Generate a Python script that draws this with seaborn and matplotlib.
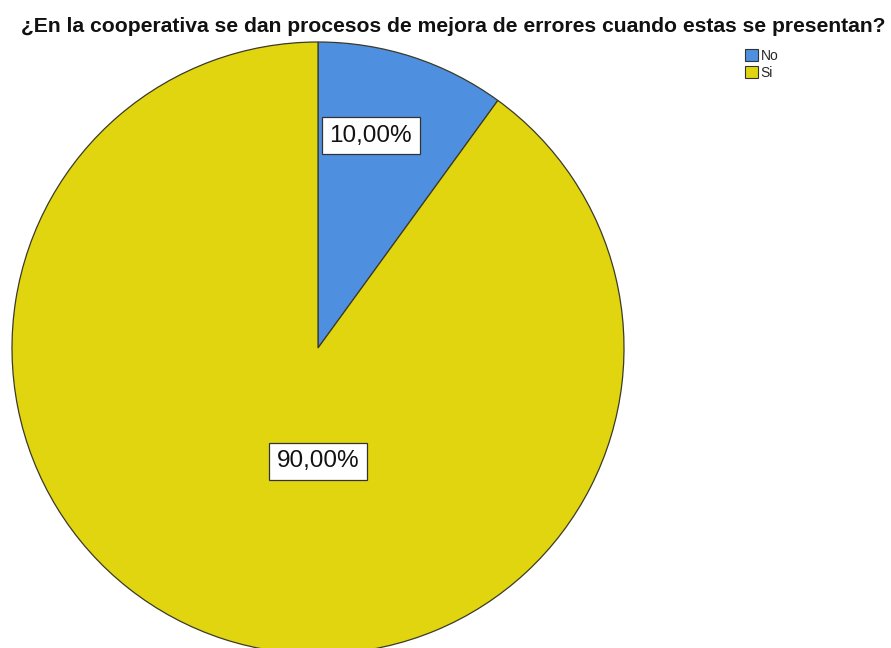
import numpy as np
import matplotlib
matplotlib.use("Agg")
import matplotlib.pyplot as plt
from matplotlib.patches import Patch
import seaborn as sns

# Survey answers and their percentages
categories = ["No", "Si"]
percentages = [10.0, 90.0]
colors = ["#4F8FE0", "#E1D50F"]
title = "¿En la cooperativa se dan procesos de mejora de errores cuando estas se presentan?"

sns.set_theme(style="white")
plt.rcParams["font.family"] = ["Liberation Sans", "DejaVu Sans"]

W, H = 891, 648
fig = plt.figure(figsize=(W / 100, H / 100), dpi=100)
ax = fig.add_axes([0, 0, 1, 1])

cx, cy, r = 318, H - 348, 306
wedges, _ = ax.pie(
    percentages,
    colors=colors,
    startangle=90,
    counterclock=False,
    center=(cx, cy),
    radius=r,
    wedgeprops=dict(edgecolor="#3a3a2a", linewidth=0.9),
)
ax.set_xlim(0, W)
ax.set_ylim(0, H)
ax.set_aspect("equal")
ax.axis("off")

# Percentage labels inside each wedge (polar offset from the centre)
label_pos = [(0.715, 76), (0.37, 270)]
for val, (frac, ang) in zip(percentages, label_pos):
    x = cx + frac * r * np.cos(np.radians(ang))
    y = cy + frac * r * np.sin(np.radians(ang))
    ax.text(x, y, f"{val:.2f}".replace(".", ",") + "%", ha="center", va="center",
            fontsize=17.5, color="#111111",
            bbox=dict(boxstyle="square,pad=0.3", facecolor="white",
                      edgecolor="#333333", linewidth=0.9))

fig.text(453 / W, 1 - 32 / H, title, ha="center", va="baseline",
         fontsize=15.2, fontweight="bold", color="#111111")

handles = [Patch(facecolor=c, edgecolor="#333333", linewidth=0.8, label=l)
           for c, l in zip(colors, categories)]
fig.legend(handles=handles, loc="upper left", bbox_to_anchor=(735 / W, 1 - 39 / H),
           frameon=False, fontsize=10, handlelength=0.95, handleheight=0.95,
           handletextpad=0.2, labelspacing=0.2, borderpad=0.2)

fig.savefig("out.png", dpi=100)
